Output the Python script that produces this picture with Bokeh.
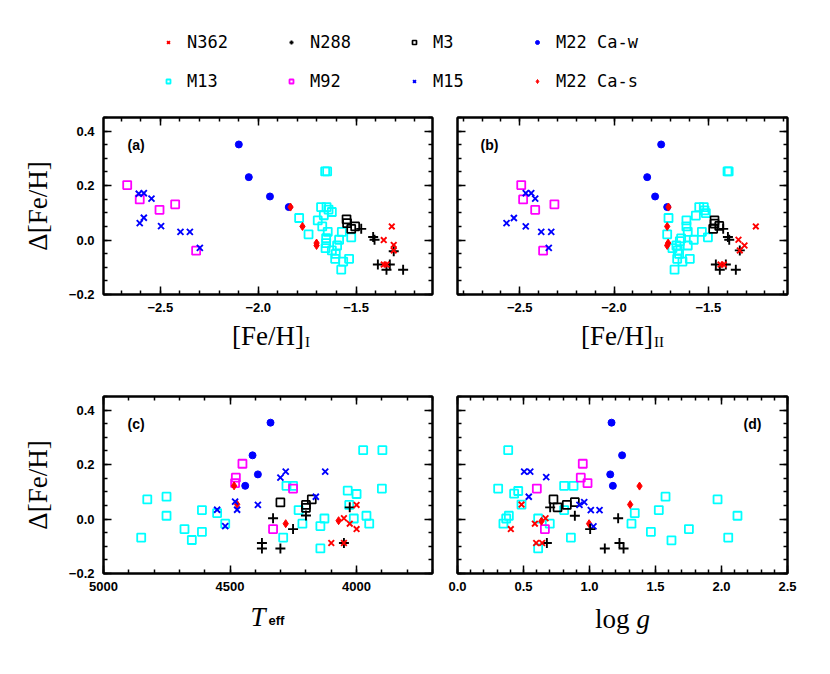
from bokeh.plotting import figure
from bokeh.models import (Range1d, LinearAxis, SingleIntervalTicker, CustomJSTickFormatter,
                          Label, Legend, LegendItem)
from bokeh.layouts import column, row
from bokeh.embed import file_html
from bokeh.resources import INLINE

# ---------------------------------------------------------------- data
# Panel (a): x = [Fe/H]_I, y = Delta[Fe/H]
a_N362_x = [-1.318, -1.359, -1.308, -1.359, -1.345, -1.308]
a_N362_y = [0.050, 0.000, -0.018, -0.090, -0.090, -0.038]
a_N288_x = [-1.474, -1.413, -1.406, -1.389, -1.345, -1.328, -1.308, -1.260]
a_N288_y = [0.041, 0.011, 0.001, -0.090, -0.109, -0.090, -0.041, -0.109]
a_M3_x = [-1.549, -1.546, -1.525, -1.505]
a_M3_y = [0.076, 0.062, 0.041, 0.050]
a_M22w_x = [-2.099, -2.048, -1.940, -1.844]
a_M22w_y = [0.351, 0.231, 0.160, 0.121]
a_M13_x = [-1.658, -1.648, -1.679, -1.651, -1.641, -1.624, -1.665, -1.791, -1.696,
           -1.673, -1.645, -1.573, -1.525, -1.743, -1.587, -1.653, -1.653, -1.597,
           -1.656, -1.624, -1.604, -1.607, -1.536, -1.566, -1.576]
a_M13_y = [0.252, 0.252, 0.121, 0.121, 0.112, 0.103, 0.091, 0.081, 0.072,
           0.050, 0.030, 0.030, 0.010, 0.021, 0.001, 0.007, -0.011, -0.020,
           -0.030, -0.038, -0.051, -0.069, -0.069, -0.079, -0.109]
a_M92_x = [-2.669, -2.605, -2.504, -2.424, -2.317]
a_M92_y = [0.202, 0.149, 0.111, 0.131, -0.039]
a_M15_x = [-2.610, -2.584, -2.545, -2.605, -2.584, -2.496, -2.397, -2.349, -2.298]
a_M15_y = [0.170, 0.172, 0.152, 0.062, 0.082, 0.051, 0.030, 0.030, -0.029]
a_M22s_x = [-1.835, -1.774, -1.702, -1.702]
a_M22s_y = [0.121, 0.050, -0.011, -0.020]

# Panel (b): x = [Fe/H]_II, y = Delta[Fe/H]
b_N362_x = [-1.248, -1.340, -1.308, -1.333, -1.435, -1.418]
b_N362_y = [0.050, 0.001, -0.020, -0.038, -0.090, -0.090]
b_N288_x = [-1.421, -1.396, -1.389, -1.460, -1.439, -1.407, -1.333, -1.354]
b_N288_y = [0.041, 0.011, 0.001, -0.090, -0.109, -0.090, -0.038, -0.109]
b_M3_x = [-1.467, -1.467, -1.474, -1.442]
b_M3_y = [0.072, 0.060, 0.041, 0.052]
b_M22w_x = [-1.750, -1.824, -1.782, -1.718]
b_M22w_y = [0.351, 0.231, 0.160, 0.121]
b_M13_x = [-1.398, -1.392, -1.548, -1.524, -1.520, -1.513, -1.566, -1.711, -1.616,
           -1.616, -1.609, -1.534, -1.502, -1.718, -1.577, -1.644, -1.651, -1.609,
           -1.669, -1.690, -1.662, -1.655, -1.665, -1.598, -1.637, -1.679]
b_M13_y = [0.252, 0.252, 0.121, 0.121, 0.109, 0.099, 0.090, 0.081, 0.072,
           0.050, 0.030, 0.030, 0.010, 0.021, 0.001, 0.006, -0.004, -0.020,
           -0.020, -0.030, -0.038, -0.051, -0.069, -0.069, -0.079, -0.109]
b_M92_x = [-2.492, -2.482, -2.418, -2.316, -2.376]
b_M92_y = [0.202, 0.149, 0.111, 0.131, -0.039]
b_M15_x = [-2.570, -2.531, -2.468, -2.468, -2.439, -2.418, -2.386, -2.333, -2.346]
b_M15_y = [0.062, 0.081, 0.050, 0.172, 0.172, 0.152, 0.030, 0.030, -0.029]
b_M22s_x = [-1.711, -1.718, -1.713, -1.718]
b_M22s_y = [0.121, 0.050, -0.011, -0.020]

# Panel (c): x = Teff, y = Delta[Fe/H]
c_N362_x = [4100, 4050, 4027, 4000, 4000, 4050]
c_N362_y = [-0.088, 0.003, -0.017, -0.037, 0.052, -0.088]
c_N288_x = [4330, 4251, 4374, 4374, 4301, 4200, 4050, 4027]
c_N288_y = [0.003, -0.037, -0.088, -0.108, -0.108, 0.013, -0.088, 0.043]
c_M3_x = [4301, 4200, 4200, 4177]
c_M3_y = [0.061, 0.052, 0.041, 0.072]
c_M22w_x = [4340, 4411, 4390, 4440]
c_M22w_y = [0.354, 0.234, 0.164, 0.122]
c_M13_x = [4851, 4827, 4751, 4751, 4680, 4651, 4611, 4611, 4551, 4519,
           4290, 4277, 4251, 4229, 4214, 4143, 4127, 4143,
           4035, 4000, 4029, 4011, 3961, 3950, 3974, 3898, 3900]
c_M13_y = [-0.068, 0.072, 0.082, 0.012, -0.037, -0.077, 0.033, -0.047, 0.022, -0.017,
           -0.068, 0.122, 0.122, 0.033, -0.017, -0.108, 0.002, -0.026,
           0.104, 0.092, 0.052, 0.002, 0.012, -0.017, 0.253, 0.253, 0.112]
c_M92_x = [4451, 4477, 4480, 4251, 4330]
c_M92_y = [0.203, 0.152, 0.132, 0.112, -0.037]
c_M15_x = [4480, 4472, 4551, 4519, 4390, 4301, 4280, 4161, 4124]
c_M15_y = [0.064, 0.034, 0.034, -0.026, 0.052, 0.152, 0.174, 0.082, 0.174]
c_M22s_x = [4484, 4472, 4280, 4071]
c_M22s_y = [0.122, 0.054, -0.017, -0.006]

# Panel (d): x = log g, y = Delta[Fe/H]
d_N362_x = [0.404, 0.485, 0.586, 0.667, 0.596, 0.641]
d_N362_y = [-0.037, 0.053, -0.017, 0.003, -0.088, -0.088]
d_N288_x = [0.702, 0.889, 1.005, 1.217, 0.677, 1.116, 1.227, 1.258]
d_N288_y = [0.043, 0.012, -0.037, 0.003, -0.088, -0.108, -0.088, -0.108]
d_M3_x = [0.727, 0.758, 0.828, 0.889]
d_M3_y = [0.072, 0.043, 0.052, 0.062]
d_M22w_x = [1.167, 1.247, 1.157, 1.177]
d_M22w_y = [0.354, 0.234, 0.164, 0.122]
d_M13_x = [0.384, 0.308, 0.429, 0.460, 0.485, 0.348, 0.369, 0.389, 0.611, 0.611,
           0.699, 0.808, 0.879, 0.808, 0.859, 1.318, 1.343, 1.525, 1.576, 1.465,
           1.621, 1.753, 1.970, 2.051, 2.121]
d_M13_y = [0.253, 0.112, 0.093, 0.103, 0.053, -0.017, 0.002, 0.012, 0.002, -0.108,
           -0.017, 0.122, 0.122, 0.033, -0.068, -0.017, 0.022, 0.033, 0.082, -0.047,
           -0.078, -0.037, 0.072, -0.068, 0.012]
d_M92_x = [0.601, 0.949, 0.934, 0.985, 0.662]
d_M92_y = [0.112, 0.203, 0.152, 0.132, -0.037]
d_M15_x = [0.505, 0.551, 0.672, 0.540, 0.924, 0.960, 1.010, 1.076, 1.030]
d_M15_y = [0.174, 0.174, 0.154, 0.082, 0.052, 0.062, 0.033, 0.033, -0.027]
d_M22s_x = [1.379, 1.308, 0.997, 0.636]
d_M22s_y = [0.121, 0.053, -0.017, -0.008]

legend_order = ["N362", "N288", "M3", "M22 Ca-w", "M13", "M92", "M15", "M22 Ca-s"]
draw_order = ["M13", "M92", "M3", "M22 Ca-w", "M22 Ca-s", "M15", "N288", "N362"]

# ---------------------------------------------------------------- styles
STYLES = {
    "N362": dict(marker="x", size=8, line_color="#ff0000", line_width=1.9),
    "N288": dict(marker="cross", size=10, line_color="#000000", line_width=1.9),
    "M3": dict(marker="square", size=8, line_color="#000000", fill_color=None, line_width=1.7),
    "M22 Ca-w": dict(marker="circle", size=7, line_color="#0000ff", fill_color="#0000ff"),
    "M13": dict(marker="square", size=8, line_color="#00ffff", fill_color=None, line_width=1.8),
    "M92": dict(marker="square", size=8, line_color="#ff00ff", fill_color=None, line_width=1.8),
    "M15": dict(marker="x", size=8.5, line_color="#0000ff", line_width=1.9),
    "M22 Ca-s": dict(marker="diamond", size=8, line_color="#ff0000", fill_color="#ff0000"),
}
LEGEND_SIZE = {"N362": 6.5, "N288": 8, "M3": 6, "M22 Ca-w": 5.5,
               "M13": 6, "M92": 6, "M15": 6.5, "M22 Ca-s": 6.5}

panel_data = {
    "a": {"N362": (a_N362_x, a_N362_y), "N288": (a_N288_x, a_N288_y), "M3": (a_M3_x, a_M3_y),
          "M22 Ca-w": (a_M22w_x, a_M22w_y), "M13": (a_M13_x, a_M13_y), "M92": (a_M92_x, a_M92_y),
          "M15": (a_M15_x, a_M15_y), "M22 Ca-s": (a_M22s_x, a_M22s_y)},
    "b": {"N362": (b_N362_x, b_N362_y), "N288": (b_N288_x, b_N288_y), "M3": (b_M3_x, b_M3_y),
          "M22 Ca-w": (b_M22w_x, b_M22w_y), "M13": (b_M13_x, b_M13_y), "M92": (b_M92_x, b_M92_y),
          "M15": (b_M15_x, b_M15_y), "M22 Ca-s": (b_M22s_x, b_M22s_y)},
    "c": {"N362": (c_N362_x, c_N362_y), "N288": (c_N288_x, c_N288_y), "M3": (c_M3_x, c_M3_y),
          "M22 Ca-w": (c_M22w_x, c_M22w_y), "M13": (c_M13_x, c_M13_y), "M92": (c_M92_x, c_M92_y),
          "M15": (c_M15_x, c_M15_y), "M22 Ca-s": (c_M22s_x, c_M22s_y)},
    "d": {"N362": (d_N362_x, d_N362_y), "N288": (d_N288_x, d_N288_y), "M3": (d_M3_x, d_M3_y),
          "M22 Ca-w": (d_M22w_x, d_M22w_y), "M13": (d_M13_x, d_M13_y), "M92": (d_M92_x, d_M92_y),
          "M15": (d_M15_x, d_M15_y), "M22 Ca-s": (d_M22s_x, d_M22s_y)},
}

SERIF = "Liberation Serif"
SANS = "Liberation Sans"


def num_fmt(digits):
    return CustomJSTickFormatter(code="""
        const v = Math.abs(tick) < 1e-9 ? 0 : tick;
        return v.toFixed(%d).replace('-', '\\u2212');
    """ % digits)


def empty_fmt():
    return CustomJSTickFormatter(code="return '';")


def style_axis(ax, standoff):
    ax.major_tick_in = 8
    ax.major_tick_out = 0
    ax.minor_tick_in = 4
    ax.minor_tick_out = 0
    ax.major_tick_line_width = 1.5
    ax.minor_tick_line_width = 1.5
    ax.axis_line_width = 2
    ax.major_label_text_font = SANS
    ax.major_label_text_font_style = "bold"
    ax.major_label_text_font_size = "13px"
    ax.major_label_text_color = "black"
    ax.major_label_standoff = standoff


def make_panel(key, xr, xint, xdigits, show_y, borders, w, h):
    bl, br, bt, bb = borders
    p = figure(width=w, height=h, x_range=xr, y_range=Range1d(-0.2, 0.45),
               output_backend="svg", toolbar_location=None,
               min_border_left=bl, min_border_right=br, min_border_top=bt, min_border_bottom=bb)
    p.xgrid.visible = False
    p.ygrid.visible = False
    p.outline_line_color = "black"
    p.outline_line_width = 2
    xa = p.xaxis[0]
    ya = p.yaxis[0]
    xa.ticker = SingleIntervalTicker(interval=xint, num_minor_ticks=5)
    ya.ticker = SingleIntervalTicker(interval=0.2, num_minor_ticks=4)
    xa.formatter = num_fmt(xdigits)
    ya.formatter = num_fmt(1) if show_y else empty_fmt()
    style_axis(xa, 8)
    style_axis(ya, 9 if show_y else 0)
    if show_y:
        ya.axis_label = "\u0394[Fe/H]"
        ya.axis_label_text_font = SERIF
        ya.axis_label_text_font_size = "27px"
        ya.axis_label_text_font_style = "normal"
        ya.axis_label_text_color = "black"
        ya.axis_label_standoff = 13
    top = LinearAxis(ticker=SingleIntervalTicker(interval=xint, num_minor_ticks=5), formatter=empty_fmt())
    right = LinearAxis(ticker=SingleIntervalTicker(interval=0.2, num_minor_ticks=4), formatter=empty_fmt())
    style_axis(top, 0)
    style_axis(right, 0)
    p.add_layout(top, "above")
    p.add_layout(right, "right")
    for name in draw_order:
        xs, ys = panel_data[key][name]
        p.scatter(x=xs, y=ys, **STYLES[name])
    return p


def add_text(p, x, y, text, font, size, style="normal", align="left", baseline="alphabetic"):
    p.add_layout(Label(x=x, y=y, x_units="screen", y_units="screen", text=text,
                       text_font=font, text_font_size=size, text_font_style=style,
                       text_align=align, text_baseline=baseline, text_color="black"))


def strip(width, height):
    s = figure(width=width, height=height, x_axis_type=None, y_axis_type=None,
               x_range=Range1d(0, 1), y_range=Range1d(0, 1),
               output_backend="svg", toolbar_location=None, min_border=0)
    s.outline_line_color = None
    s.xgrid.visible = False
    s.ygrid.visible = False
    return s


W1, W2 = 444, 353
H1, H2 = 210, 221

pa = make_panel("a", Range1d(-2.79, -1.11), 0.5, 1, True, (103, 12, 9, 24), W1, H1)
pb = make_panel("b", Range1d(-2.83, -1.08), 0.5, 1, False, (13, 10, 9, 24), W2, H1)
pc = make_panel("c", Range1d(5000, 3700), 500, 0, True, (103, 12, 20, 24), W1, H2)
pd = make_panel("d", Range1d(0.0, 2.5), 0.5, 1, False, (13, 10, 20, 24), W2, H2)

# panel tags
add_text(pa, 24, 150, "(a)", SANS, "14px", "bold", baseline="middle")
add_text(pb, 23, 150, "(b)", SANS, "14px", "bold", baseline="middle")
add_text(pc, 24, 149.5, "(c)", SANS, "14px", "bold", baseline="middle")
add_text(pd, 286, 149.5, "(d)", SANS, "14px", "bold", baseline="middle")

# x axis titles (strips under each row of panels)
t1 = strip(W1 + W2, 58)
add_text(t1, 231.5, 41, "[Fe/H]", SERIF, "27px")
add_text(t1, 304.5, 34.3, "I", SERIF, "15px")
add_text(t1, 580.5, 41, "[Fe/H]", SERIF, "27px")
add_text(t1, 653.5, 34.3, "II", SERIF, "15px")

t2 = strip(W1 + W2, 43)
add_text(t2, 250, 23.3, "T", SERIF, "27px", "italic")
add_text(t2, 268, 20, "eff", SANS, "13px", "bold")
add_text(t2, 594.5, 22, "log", SERIF, "27px")
add_text(t2, 636, 22, "g", SERIF, "27px", "italic")

# legend strip: renderers hold panel (a) values, which lie outside this strip's 0..1 ranges
lf = strip(W1 + W2, 108)
items = []
for name in legend_order:
    xs, ys = panel_data["a"][name]
    st = dict(STYLES[name])
    st["size"] = LEGEND_SIZE[name]
    r = lf.scatter(x=xs, y=ys, **st)
    items.append(LegendItem(label=name, renderers=[r]))
leg = Legend(items=items, orientation="horizontal", ncols=4, location=(163, 15),
             glyph_width=10, glyph_height=24, label_standoff=14, label_width=84,
             label_height=24, spacing=15, padding=0, margin=0,
             border_line_color=None, background_fill_alpha=0,
             label_text_font="DejaVu Sans Mono", label_text_font_size="17px",
             label_text_color="black")
lf.add_layout(leg, "center")

layout = column(lf, row(pa, pb), t1, row(pc, pd), t2)

open("out.html", "w").write(file_html(layout, INLINE))
